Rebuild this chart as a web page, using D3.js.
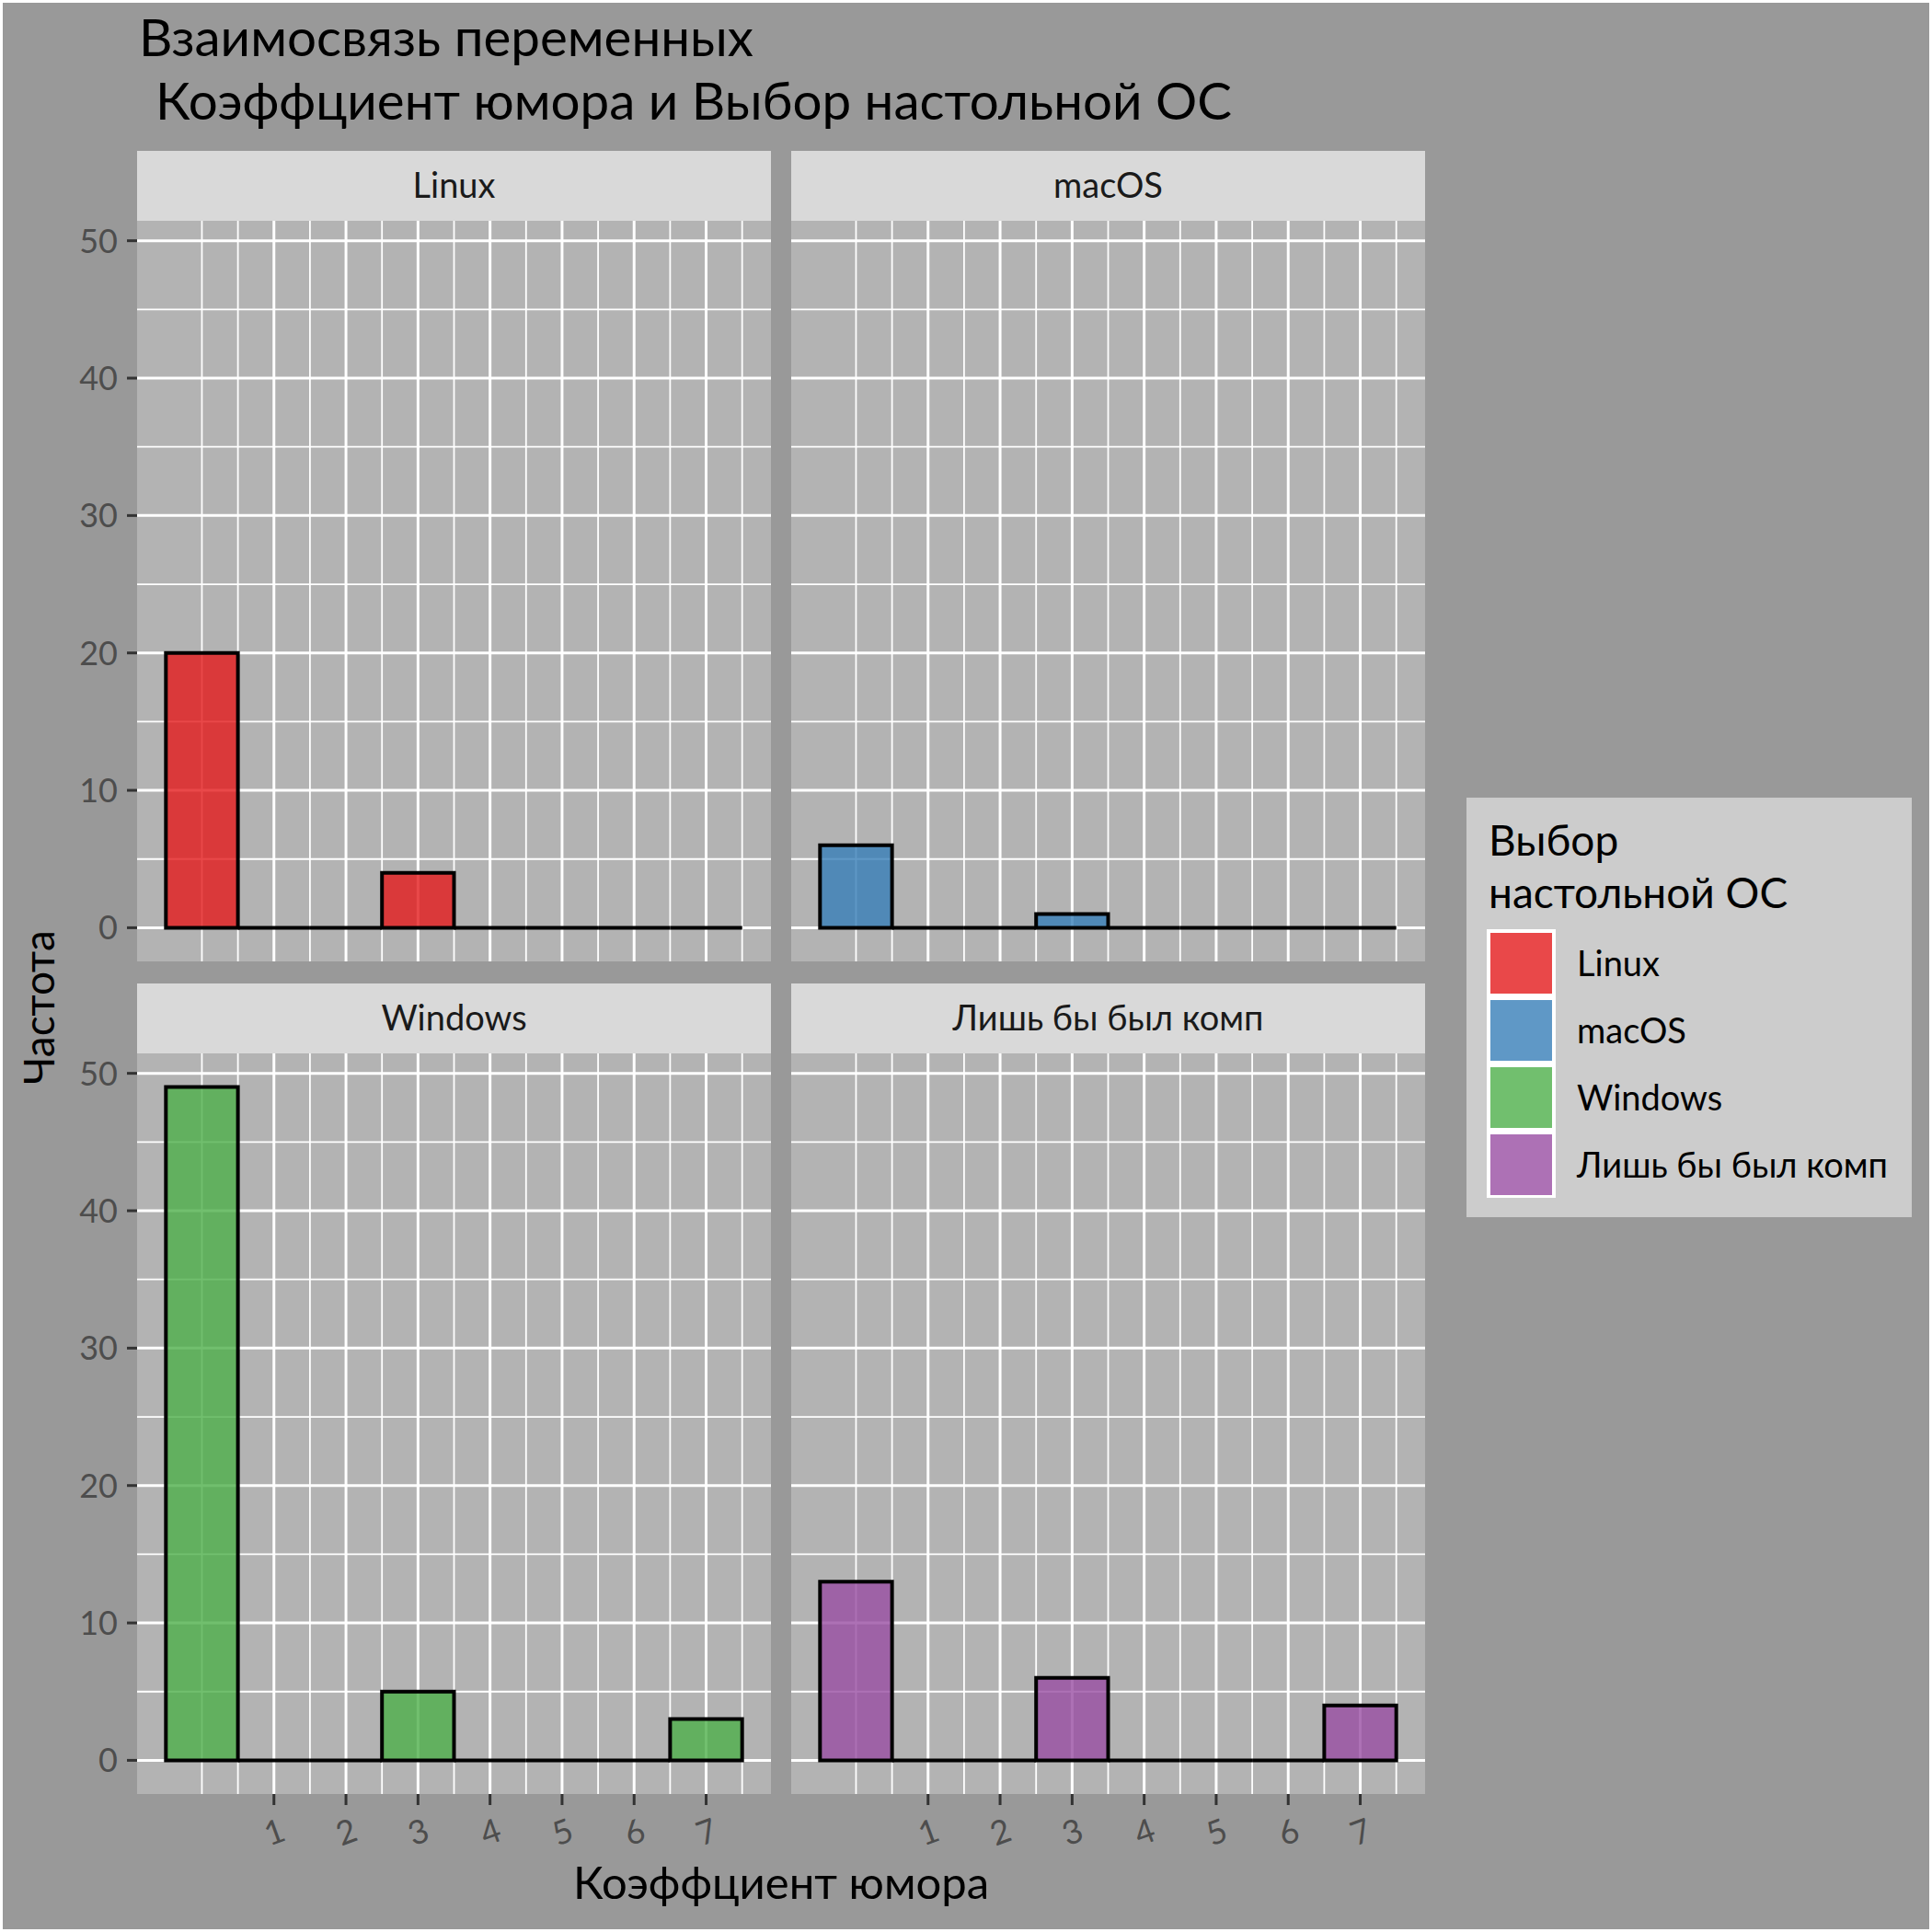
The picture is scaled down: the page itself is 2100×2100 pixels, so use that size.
<!DOCTYPE html>
<html>
<head>
<meta charset="utf-8">
<script src="https://cdn.jsdelivr.net/npm/d3@7"></script>
<style>
  html, body { margin: 0; padding: 0; background: #ffffff; }
  svg { display: block; }
  text { font-family: Lato, "Open Sans", "DejaVu Sans", sans-serif; }
</style>
</head>
<body>
<div id="chart"></div>
<script>
// data
let osNames = ['Linux', 'macOS', 'Windows', 'Лишь бы был комп'];
let osColors = ['#E41A1C', '#377EB8', '#4DAF4A', '#984EA3'];
let humorBins = [0, 1, 2, 3, 4, 5, 6, 7];
let linuxCounts = [20, 0, 0, 4, 0, 0, 0, 0];
let macCounts = [6, 0, 0, 1, 0, 0, 0, 0];
let windowsCounts = [49, 0, 0, 5, 0, 0, 0, 3];
let anyCounts = [13, 0, 0, 6, 0, 0, 0, 4];
let xTicks = [1, 2, 3, 4, 5, 6, 7];
let yTicks = [0, 10, 20, 30, 40, 50];
let xMinor = [0, 0.5, 1.5, 2.5, 3.5, 4.5, 5.5, 6.5, 7.5];
let yMinor = [5, 15, 25, 35, 45];

let titleLines = ['Взаимосвязь переменных', 'Коэффциент юмора и Выбор настольной ОС'];
let xTitle = 'Коэффциент юмора';
let yTitle = 'Частота';
let legendTitle = ['Выбор', 'настольной ОС'];

let counts = [linuxCounts, macCounts, windowsCounts, anyCounts];

let W = 2100, H = 2100;
let colX = [149, 860];
let rowY = [240, 1145];
let panelW = 689, panelH = 805, stripH = 76;

let svg = d3.select('#chart').append('svg')
    .attr('width', W)
    .attr('height', H);

svg.append('rect')
    .attr('x', 1.5).attr('y', 1.5)
    .attr('width', W - 3).attr('height', H - 3)
    .attr('fill', '#999999')
    .attr('stroke', '#ffffff')
    .attr('stroke-width', 3);

// title, two lines
svg.append('text')
    .attr('x', 151).attr('y', 61)
    .attr('font-size', 56.5)
    .attr('fill', '#000')
    .text(titleLines[0]);
svg.append('text')
    .attr('x', 169).attr('y', 130)
    .attr('font-size', 56.5)
    .attr('fill', '#000')
    .text(titleLines[1]);

let x = d3.scaleLinear().domain([-0.9, 7.9]).range([0, panelW]);
let y = d3.scaleLinear().domain([-2.45, 51.45]).range([panelH, 0]);

let drawPanel = (i) => {
    let col = i % 2, row = Math.floor(i / 2);
    let g = svg.append('g')
        .attr('transform', 'translate(' + colX[col] + ',' + rowY[row] + ')');

    g.append('rect')
        .attr('width', panelW).attr('height', panelH)
        .attr('fill', '#B3B3B3');

    g.selectAll('.xminor').data(xMinor).enter().append('line')
        .attr('x1', d => x(d)).attr('x2', d => x(d))
        .attr('y1', 0).attr('y2', panelH)
        .attr('stroke', '#fff').attr('stroke-width', 1.8);
    g.selectAll('.yminor').data(yMinor).enter().append('line')
        .attr('y1', d => y(d)).attr('y2', d => y(d))
        .attr('x1', 0).attr('x2', panelW)
        .attr('stroke', '#fff').attr('stroke-width', 1.8);
    g.selectAll('.xmajor').data(xTicks).enter().append('line')
        .attr('x1', d => x(d)).attr('x2', d => x(d))
        .attr('y1', 0).attr('y2', panelH)
        .attr('stroke', '#fff').attr('stroke-width', 3);
    g.selectAll('.ymajor').data(yTicks).enter().append('line')
        .attr('y1', d => y(d)).attr('y2', d => y(d))
        .attr('x1', 0).attr('x2', panelW)
        .attr('stroke', '#fff').attr('stroke-width', 3);

    // histogram bins, zero-count bins too (they show as a flat outline)
    g.selectAll('.bar').data(humorBins).enter().append('path')
        .attr('d', (b, j) => {
            let x0 = x(b - 0.5), x1 = x(b + 0.5);
            let y0 = y(0), y1 = y(counts[i][j]);
            return 'M' + x0 + ',' + y0 + 'V' + y1 + 'H' + x1 + 'V' + y0 + 'Z';
        })
        .attr('fill', osColors[i])
        .attr('fill-opacity', 0.8)
        .attr('stroke', '#000')
        .attr('stroke-width', 4)
        .attr('stroke-linejoin', 'miter');

    // strip
    svg.append('rect')
        .attr('x', colX[col]).attr('y', rowY[row] - stripH)
        .attr('width', panelW).attr('height', stripH)
        .attr('fill', '#D9D9D9');
    svg.append('text')
        .attr('x', colX[col] + panelW / 2)
        .attr('y', rowY[row] - stripH / 2 + 13)
        .attr('text-anchor', 'middle')
        .attr('font-size', 38)
        .attr('fill', '#1A1A1A')
        .text(osNames[i]);

    if (col === 0) {
        let ya = g.append('g');
        ya.selectAll('line').data(yTicks).enter().append('line')
            .attr('x1', -11).attr('x2', 0)
            .attr('y1', d => y(d)).attr('y2', d => y(d))
            .attr('stroke', '#333333').attr('stroke-width', 3);
        ya.selectAll('text').data(yTicks).enter().append('text')
            .attr('x', -21)
            .attr('y', d => y(d) + 13)
            .attr('text-anchor', 'end')
            .attr('font-size', 36)
            .attr('fill', '#4D4D4D')
            .text(d => d);
    }
    if (row === 1) {
        let xa = g.append('g');
        xa.selectAll('line').data(xTicks).enter().append('line')
            .attr('x1', d => x(d)).attr('x2', d => x(d))
            .attr('y1', panelH).attr('y2', panelH + 12)
            .attr('stroke', '#333333').attr('stroke-width', 3);
        xa.selectAll('text').data(xTicks).enter().append('text')
            .attr('transform', d => 'translate(' + x(d) + ',' + (panelH + 40) + ') rotate(-20)')
            .attr('text-anchor', 'middle')
            .attr('dominant-baseline', 'central')
            .attr('font-size', 36)
            .attr('fill', '#4D4D4D')
            .text(d => d);
    }
};

osNames.forEach((name, i) => drawPanel(i));

// axis titles
svg.append('text')
    .attr('x', colX[0] + (colX[1] + panelW - colX[0]) / 2)
    .attr('y', 2064)
    .attr('text-anchor', 'middle')
    .attr('font-size', 49)
    .attr('fill', '#000')
    .text(xTitle);
svg.append('text')
    .attr('transform', 'translate(59,' + ((rowY[0] + rowY[1] + panelH) / 2) + ') rotate(-90)')
    .attr('text-anchor', 'middle')
    .attr('font-size', 46)
    .attr('fill', '#000')
    .text(yTitle);

// legend
let lg = svg.append('g').attr('transform', 'translate(1594,867)');
lg.append('rect')
    .attr('width', 484).attr('height', 456)
    .attr('fill', '#CCCCCC');
legendTitle.forEach((t, k) => {
    lg.append('text')
        .attr('x', 24).attr('y', 63 + k * 57)
        .attr('font-size', 46)
        .attr('fill', '#000')
        .text(t);
});
let keySize = 73;
lg.append('rect')
    .attr('x', 22).attr('y', 143)
    .attr('width', 75).attr('height', keySize * 4)
    .attr('fill', '#ffffff');
lg.selectAll('.key').data(osNames).enter().append('rect')
    .attr('x', 26)
    .attr('y', (d, i) => 143 + i * keySize + 4)
    .attr('width', 67)
    .attr('height', keySize - 7)
    .attr('fill', (d, i) => osColors[i])
    .attr('fill-opacity', 0.8);
lg.selectAll('.label').data(osNames).enter().append('text')
    .attr('x', 120)
    .attr('y', (d, i) => 143 + i * keySize + keySize / 2 + 14)
    .attr('font-size', 38)
    .attr('fill', '#000')
    .text(d => d);
</script>
</body>
</html>
